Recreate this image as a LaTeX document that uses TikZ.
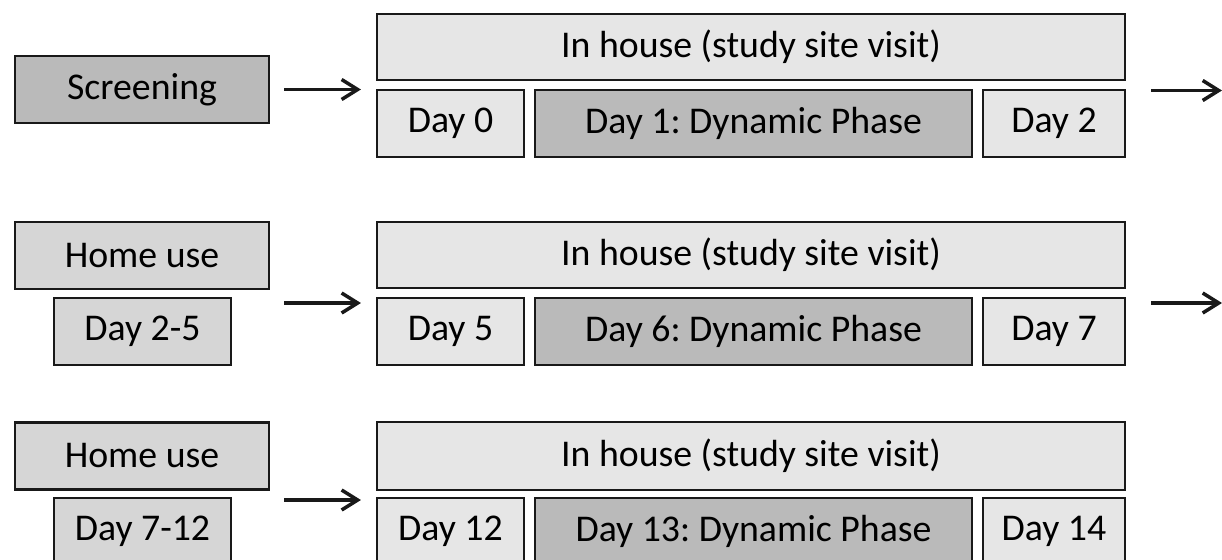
\documentclass[tikz,border=0pt]{standalone}
\usepackage{fontspec}
\setmainfont{Carlito}
\usetikzlibrary{arrows.meta}
\definecolor{lightbox}{RGB}{230,230,230}
\definecolor{midbox}{RGB}{214,214,214}
\definecolor{darkbox}{RGB}{186,186,186}
\definecolor{inkline}{RGB}{25,25,25}
\frenchspacing
\begin{document}
\begin{tikzpicture}

      \tikzset{stage/.style={draw=inkline, line width=1.2pt, inner sep=0pt, minimum height=1.34cm, text=black, font=\fontsize{21.5}{25}\selectfont},
               light/.style={stage, fill=lightbox},
               mid/.style={stage, fill=midbox},
               dark/.style={stage, fill=darkbox},
               flow/.style={-{Straight Barb[length=0.32cm, width=0.4cm, line width=2pt]}, line width=2pt, inkline}}
      \clip (0,0) rectangle (24.44,-11.2);
      \useasboundingbox (0,0) rectangle (24.44,-11.2);
%% Row 1
      	\node[dark, minimum width=5.08cm] (scr) at (2.84,-1.79) {Screening};
      	\node[light, minimum width=14.96cm, minimum height=1.32cm] (ih1) at (15.02,-0.94) {In house (study site visit)};
      	\node[light, minimum width=2.94cm] (d0) at (9.01,-2.47) {Day 0};
      	\node[dark, minimum width=8.74cm] (dyn1) at (15.07,-2.47) {Day 1: Dynamic Phase};
      	\node[light, minimum width=2.84cm] (d2) at (21.08,-2.47) {Day 2};
      	\coordinate (out1) at (24.44,-1.81);
%% Row 2
      	\node[mid, minimum width=5.08cm] (home1) at (2.84,-5.11) {Home use};
      	\node[mid, minimum width=3.54cm] (span1) at (2.85,-6.63) {Day 2-5};
      	\node[light, minimum width=14.96cm, minimum height=1.32cm] (ih2) at (15.02,-5.10) {In house (study site visit)};
      	\node[light, minimum width=2.94cm] (d5) at (9.01,-6.63) {Day 5};
      	\node[dark, minimum width=8.74cm] (dyn6) at (15.07,-6.63) {Day 6: Dynamic Phase};
      	\node[light, minimum width=2.84cm] (d7) at (21.08,-6.63) {Day 7};
      	\coordinate (out2) at (24.44,-6.06);
%% Row 3
      	\node[mid, minimum width=5.08cm] (home2) at (2.84,-9.12) {Home use};
      	\node[mid, minimum width=3.54cm] (span2) at (2.85,-10.63) {Day 7-12};
      	\node[light, minimum width=14.96cm, minimum height=1.36cm] (ih3) at (15.02,-9.12) {In house (study site visit)};
      	\node[light, minimum width=2.94cm] (d12) at (9.01,-10.63) {Day 12};
      	\node[dark, minimum width=8.74cm] (dyn13) at (15.07,-10.63) {Day 13: Dynamic Phase};
      	\node[light, minimum width=2.84cm] (d14) at (21.08,-10.63) {Day 14};
%Arrows
		\draw[flow, shorten <=0.28cm, shorten >=0.3cm] (scr.east) -- (scr.east -| d0.west);
		\draw[flow, shorten <=0.5cm] (d2.east |- out1) -- (out1);
		\draw[flow, shorten <=0.28cm, shorten >=0.3cm] ([yshift=0.57cm]span1.east -| home1.east) -- ([yshift=0.57cm]span1.east -| d5.west);
		\draw[flow, shorten <=0.5cm] (d7.east |- out2) -- (out2);
		\draw[flow, shorten <=0.28cm, shorten >=0.3cm] ([yshift=0.63cm]span2.east -| home2.east) -- ([yshift=0.63cm]span2.east -| d12.west);

	\end{tikzpicture}
\end{document}
